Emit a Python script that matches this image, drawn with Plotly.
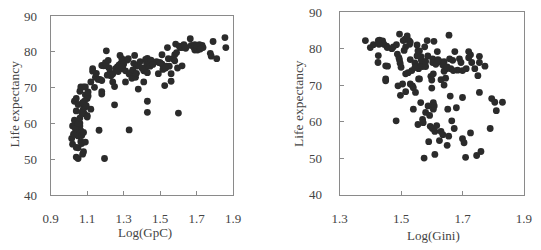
import plotly.graph_objects as go

# Left panel: Log(GpC) vs life expectancy
gpc_x = [1.015,1.02,1.02,1.03,1.03,1.03,1.04,1.05,1.04,1.04,1.05,1.04,1.05,1.04,1.05,1.06,1.065,1.08,1.09,
         1.06,1.06,1.065,1.055,1.07,1.065,1.07,1.08,1.075,1.08,1.09,1.075,1.08,1.085,1.09,1.10,1.10,1.09,1.10,
         1.105,1.105,1.085,1.075,1.12,1.12,1.13,1.13,1.14,1.145,1.15,1.16,1.17,1.18,1.18,1.18,1.165,1.195,
         1.18,1.19,1.20,1.205,1.205,1.215,1.225,1.23,1.24,1.24,1.25,1.25,1.255,1.265,1.275,1.285,1.28,1.29,
         1.295,1.295,1.305,1.30,1.31,1.31,1.32,1.325,1.33,1.33,1.34,1.345,1.355,1.36,1.365,1.37,1.38,1.38,
         1.39,1.41,1.41,1.42,1.42,1.425,1.43,1.43,1.43,1.43,1.44,1.45,1.445,1.48,1.49,1.495,1.51,1.51,1.515,
         1.525,1.535,1.54,1.545,1.55,1.56,1.56,1.57,1.58,1.585,1.59,1.595,1.60,1.605,1.61,1.62,1.62,1.63,
         1.635,1.665,1.67,1.685,1.69,1.70,1.705,1.71,1.715,1.72,1.73,1.735,1.775,1.78,1.79,1.81,1.855,1.86,1.69,
         1.035,1.05,1.07,1.095,1.21,1.22,1.27,1.29,1.35,1.37,1.40,1.46,1.50,1.53,1.58,1.64,1.70,1.72,1.025,1.06]
gpc_y = [55.8,54.2,59.3,59.5,60.9,66.2,67.0,65.3,63.5,58.0,56.5,50.6,50.2,53.3,53.2,69.0,70.2,70.2,70.2,
         60.1,59.3,58.0,57.5,56.6,54.9,54.4,57.5,51.4,52.1,54.8,63.5,64.2,62.7,64.6,62.2,61.8,68.0,67.0,
         67.7,68.8,66.2,65.8,64.0,71.6,75.3,74.6,70.1,72.9,74.0,72.3,72.3,72.0,68.9,68.2,58.1,50.2,
         76.2,76.1,77.0,80.3,76.1,77.6,74.2,73.3,73.8,71.6,70.3,65.2,75.3,75.8,76.4,76.8,79.0,78.1,
         76.1,75.3,77.7,76.6,74.7,71.6,77.7,78.1,58.2,73.8,74.2,72.6,76.8,79.0,72.9,76.0,69.6,76.4,
         77.3,71.6,74.7,75.5,77.9,77.0,74.2,66.2,63.1,78.2,77.3,77.7,76.0,77.3,73.9,77.0,79.2,76.6,75.1,
         70.6,76.0,81.2,78.1,76.0,73.9,71.8,78.1,79.2,82.2,79.8,75.5,62.9,81.6,81.2,81.2,76.1,82.0,
         81.6,83.7,81.8,81.2,80.5,81.2,80.5,81.6,82.0,81.2,81.8,81.2,79.6,78.8,82.9,78.1,84.0,81.2,82.0,
         58.5,60.0,63.0,65.0,73.5,75.5,74.5,75.8,75.0,74.0,75.5,76.5,77.0,75.5,77.5,81.0,81.8,80.8,57.0,61.5]

# Right panel: Log(Gini) vs life expectancy
gini_x = [1.384,1.40,1.41,1.426,1.43,1.44,1.444,1.428,1.426,1.425,1.45,1.456,1.45,1.45,1.453,1.455,1.475,
          1.485,1.488,1.49,1.484,1.495,1.493,1.495,1.497,1.498,1.50,1.505,1.507,1.513,1.515,1.515,1.515,1.52,
          1.523,1.526,1.528,1.53,1.53,1.53,1.537,1.54,1.54,1.545,1.547,1.55,1.552,1.552,1.555,1.557,1.557,
          1.555,1.56,1.564,1.566,1.566,1.57,1.57,1.572,1.575,1.577,1.58,1.58,1.585,1.587,1.588,1.59,1.593,
          1.595,1.597,1.60,1.60,1.602,1.603,1.603,1.605,1.605,1.605,1.607,1.608,1.61,1.61,1.613,1.616,1.618,
          1.62,1.625,1.627,1.63,1.63,1.636,1.636,1.64,1.64,1.645,1.648,1.65,1.652,1.655,1.656,1.658,1.66,
          1.662,1.665,1.668,1.673,1.675,1.68,1.684,1.69,1.695,1.70,1.70,1.705,1.71,1.712,1.72,1.726,1.726,
          1.73,1.74,1.746,1.75,1.755,1.755,1.76,1.773,1.79,1.795,1.805,1.81,1.83,1.56,
          1.47,1.51,1.535,1.545,1.565,1.58,1.62,1.64,1.65,1.67,1.70,1.72,1.755]
gini_y = [82.2,80.3,81.1,82.2,82.3,82.1,81.2,81.2,78.1,76.2,75.3,75.2,71.7,71.2,80.7,80.3,80.5,
          81.1,78.5,69.8,60.2,84.0,77.5,76.9,76.0,67.2,74.9,70.3,82.2,82.6,80.5,73.1,68.2,83.5,
          73.4,82.2,81.2,81.8,77.0,70.3,69.8,63.4,69.3,76.1,68.0,75.1,81.0,78.0,79.4,74.5,71.7,
          59.2,71.7,65.2,75.6,76.9,75.1,60.6,59.7,50.0,80.5,75.1,62.5,82.2,78.0,64.3,54.5,61.7,
          58.7,72.4,71.4,69.2,58.1,77.2,76.2,73.1,65.2,63.4,82.0,64.3,57.3,51.0,75.7,58.9,79.2,
          77.0,54.8,76.4,71.5,57.3,56.4,75.5,70.0,76.4,71.9,74.5,53.5,63.4,56.0,83.7,77.2,67.0,
          74.5,60.2,76.8,58.1,79.2,63.8,74.1,77.2,76.2,55.3,66.6,54.2,50.2,74.5,79.2,78.3,56.9,
          76.2,74.5,50.7,72.6,77.9,68.0,51.8,75.2,58.1,66.3,65.3,63.0,65.3,79.4,
          80.0,79.5,74.0,74.8,77.8,76.5,76.8,73.8,75.0,74.0,74.0,77.5,76.2]

y_ticks = [40, 50, 60, 70, 80, 90]
gpc_ticks = [0.9, 1.1, 1.3, 1.5, 1.7, 1.9]
gini_ticks = [1.3, 1.5, 1.7, 1.9]

FONT = "Liberation Serif"
TXT = "#444444"
LINE = "#8a8a8a"
MK = dict(color="#2b2b2b", size=6.8, line=dict(width=0))

fig = go.Figure()
fig.add_trace(go.Scatter(x=gpc_x, y=gpc_y, mode="markers", marker=MK, xaxis="x", yaxis="y", showlegend=False))
fig.add_trace(go.Scatter(x=gini_x, y=gini_y, mode="markers", marker=MK, xaxis="x2", yaxis="y2", showlegend=False))

ax = dict(showline=True, mirror=True, linecolor=LINE, linewidth=1, ticks="inside", ticklen=4,
          tickcolor=LINE, showgrid=False, zeroline=False, tickfont=dict(family=FONT, size=13, color=TXT))

fig.update_layout(
    width=541, height=250, margin=dict(l=0, r=0, t=0, b=0),
    paper_bgcolor="white", plot_bgcolor="white",
    xaxis=dict(ax, domain=[44/541, 232/541], range=[0.9, 1.9], tickvals=gpc_ticks,
               ticktext=[f"{v:.1f}" for v in gpc_ticks], anchor="y", ticklabelstandoff=11),
    yaxis=dict(ax, domain=[50/250, 240.3/250], range=[40, 90], tickvals=y_ticks, anchor="x",
               ticklabelstandoff=10),
    xaxis2=dict(ax, domain=[341.7/541, 531.7/541], range=[1.3, 1.9], tickvals=gini_ticks,
                ticktext=[f"{v:.1f}" for v in gini_ticks], anchor="y2", ticklabelstandoff=12),
    yaxis2=dict(ax, domain=[50.5/250, 244.5/250], range=[40, 90], tickvals=y_ticks, anchor="x2",
                ticklabelstandoff=14),
    annotations=[
        dict(text="Log(GpC)", x=141/541, y=(250-240)/250, xref="paper", yref="paper",
             showarrow=False, xanchor="center", yanchor="middle", font=dict(family=FONT, size=13, color=TXT)),
        dict(text="Log(Gini)", x=438/541, y=(250-243)/250, xref="paper", yref="paper",
             showarrow=False, xanchor="center", yanchor="middle", font=dict(family=FONT, size=13, color=TXT)),
        dict(text="Life expectancy", x=7/541, y=(250-103)/250, xref="paper", yref="paper", textangle=-90,
             showarrow=False, xanchor="center", yanchor="middle", font=dict(family=FONT, size=13.5, color=TXT)),
        dict(text="Life expectancy", x=300/541, y=(250-103)/250, xref="paper", yref="paper", textangle=-90,
             showarrow=False, xanchor="center", yanchor="middle", font=dict(family=FONT, size=13.5, color=TXT)),
    ],
)

fig.write_html("out.html")
